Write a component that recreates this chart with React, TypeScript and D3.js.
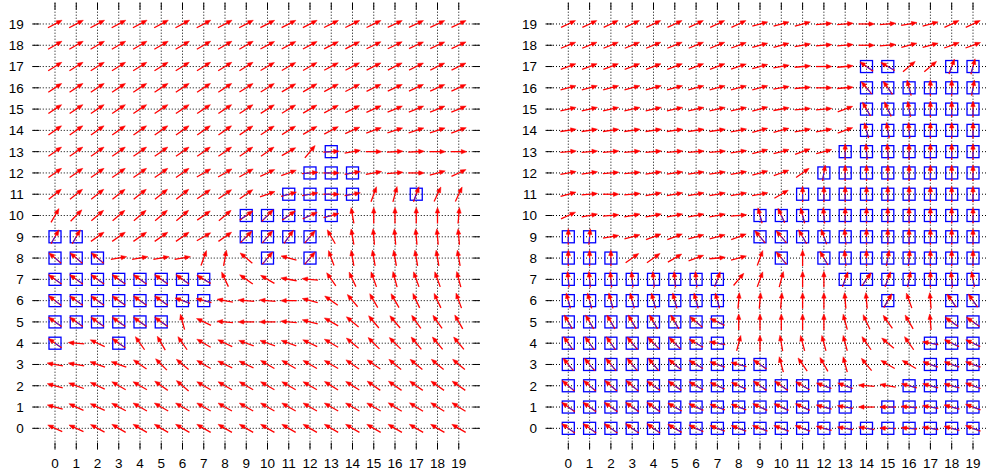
import React from "react";
import * as d3 from "d3";

const GRID = d3.range(20);
const TICK_LABELS = d3.range(20).map(String);

// Angles in degrees (0 = pointing right, 90 = pointing up), rows indexed by y value 0..19
const LEFT_ANGLES: number[][] = [
  [155,155,152,150,150,150,150,150,150,150,150,150,150,150,150,150,150,150,150,150],
  [165,155,155,152,150,150,150,150,150,150,150,150,150,150,150,150,148,148,148,148],
  [165,160,155,150,150,145,140,150,150,150,150,150,150,148,148,145,145,145,145,145],
  [170,170,160,160,145,135,140,150,155,155,150,150,150,150,145,145,140,140,140,140],
  [145,175,155,145,125,120,125,150,155,160,160,160,155,150,140,135,135,130,130,130],
  [145,145,145,145,145,145,105,155,175,180,180,175,165,150,140,130,130,125,125,120],
  [142,145,145,145,145,145,160,165,170,175,175,180,165,145,130,120,120,115,115,110],
  [145,145,145,145,145,145,145,150,115,145,150,170,175,125,115,110,105,110,110,105],
  [140,140,140,10,10,10,10,70,80,140,50,165,50,110,100,100,100,100,100,100],
  [60,60,35,35,35,35,35,30,35,45,50,55,50,120,100,95,95,95,95,95],
  [60,45,40,40,40,40,40,35,40,35,45,35,25,15,100,90,90,90,90,85],
  [38,38,38,38,38,38,38,35,35,35,20,15,10,0,10,70,75,70,65,65],
  [35,35,35,35,35,35,35,30,30,30,25,20,5,0,10,10,5,0,15,25],
  [35,35,35,35,35,35,35,35,35,35,35,30,50,3,10,0,3,3,0,0],
  [35,35,35,35,35,35,35,35,35,34,33,32,30,28,24,20,18,18,18,20],
  [34,34,34,34,34,34,34,34,34,33,32,31,30,28,26,24,22,22,22,22],
  [33,33,33,33,33,33,33,33,33,32,32,30,30,28,27,26,25,25,24,24],
  [32,32,32,32,32,32,32,32,32,32,30,30,30,28,28,27,27,26,26,26],
  [30,30,30,30,30,30,30,30,30,30,28,28,28,27,27,26,26,25,25,25],
  [28,28,28,28,28,28,28,28,28,28,27,27,27,26,26,26,25,25,25,25],
];

const RIGHT_ANGLES: number[][] = [
  [145,145,145,145,145,150,155,160,160,160,160,160,165,170,170,178,175,170,165,160],
  [145,145,145,145,145,150,155,160,160,155,155,155,165,170,180,180,175,170,165,160],
  [140,140,140,140,145,145,150,155,155,145,145,150,160,160,175,170,165,165,165,160],
  [130,130,130,130,130,140,150,160,165,145,105,125,120,105,130,150,150,160,160,160],
  [125,125,125,130,135,135,150,170,75,90,100,105,105,105,125,140,125,170,155,155],
  [120,120,120,120,120,120,140,155,90,90,90,90,90,105,115,125,120,95,145,145],
  [105,105,105,105,105,105,105,105,85,85,85,90,90,95,95,60,110,95,125,125],
  [95,95,95,95,95,95,95,70,50,70,75,90,90,70,55,70,80,90,95,100],
  [90,90,90,35,35,30,20,5,15,70,130,90,120,95,90,80,85,90,90,90],
  [90,85,10,15,20,20,15,15,20,130,130,120,110,95,90,90,90,90,90,90],
  [25,10,5,10,10,10,10,10,5,105,115,105,95,90,90,90,90,90,90,90],
  [15,5,0,5,10,10,10,10,10,10,30,90,90,90,90,90,90,90,90,90],
  [10,8,5,5,8,8,8,8,10,15,20,35,80,90,90,90,90,90,90,90],
  [5,5,5,5,5,5,5,5,8,15,15,20,15,90,95,95,90,90,90,90],
  [8,8,8,8,8,8,8,8,10,15,15,10,10,20,105,100,95,90,90,90],
  [12,12,12,12,12,12,12,12,12,15,10,5,5,20,120,115,100,90,90,90],
  [15,15,15,15,15,15,15,15,15,15,10,5,0,5,130,125,105,90,90,80],
  [20,20,20,20,20,20,20,20,18,15,10,5,0,5,145,150,40,40,70,75],
  [22,22,22,22,22,22,22,22,20,15,15,10,5,5,0,5,15,15,20,20],
  [25,25,25,25,25,25,25,25,25,15,15,15,5,5,0,5,10,15,25,25],
];

// Marked cells: [row, columns]
const LEFT_MARKED: [number, number[]][] = [
  [13, [13]],
  [12, [12, 13, 14]],
  [11, [11, 12, 13, 14, 17]],
  [10, [9, 10, 11, 12, 13]],
  [9, [0, 1, 9, 10, 11, 12]],
  [8, [0, 1, 2, 10, 12]],
  [7, [0, 1, 2, 3, 4, 5, 6, 7]],
  [6, [0, 1, 2, 3, 4, 5, 6, 7]],
  [5, [0, 1, 2, 3, 4, 5]],
  [4, [0, 3]],
];

const RIGHT_MARKED: [number, number[]][] = [
  [17, [14, 15, 18, 19]],
  [16, [14, 15, 16, 17, 18, 19]],
  [15, [14, 15, 16, 17, 18, 19]],
  [14, [14, 15, 16, 17, 18, 19]],
  [13, [13, 14, 15, 16, 17, 18, 19]],
  [12, [12, 13, 14, 15, 16, 17, 18, 19]],
  [11, [11, 12, 13, 14, 15, 16, 17, 18, 19]],
  [10, [9, 10, 11, 12, 13, 14, 15, 16, 17, 18, 19]],
  [9, [0, 1, 9, 10, 11, 12, 13, 14, 15, 16, 17, 18, 19]],
  [8, [0, 1, 2, 10, 12, 13, 14, 15, 16, 17, 18, 19]],
  [7, [0, 1, 2, 3, 4, 5, 6, 7, 13, 14, 15, 16, 17, 18, 19]],
  [6, [0, 1, 2, 3, 4, 5, 6, 7, 15, 18, 19]],
  [5, [0, 1, 2, 3, 4, 5, 6, 7, 18, 19]],
  [4, [0, 1, 2, 3, 4, 5, 6, 7, 17, 18, 19]],
  [3, [0, 1, 2, 3, 4, 5, 6, 7, 8, 9, 17, 18, 19]],
  [2, [0, 1, 2, 3, 4, 5, 6, 7, 8, 9, 10, 11, 12, 13, 16, 17, 18, 19]],
  [1, [0, 1, 2, 3, 4, 5, 6, 7, 8, 9, 10, 11, 12, 13, 15, 16, 17, 18, 19]],
  [0, [0, 1, 2, 3, 4, 5, 6, 7, 8, 9, 10, 11, 12, 13, 14, 15, 16, 17, 18, 19]],
];

const FONT = "'Liberation Sans', Arial, Helvetica, sans-serif";

type PanelProps = {
  angles: number[][];
  marked: [number, number[]][];
  xRange: [number, number];
  yRange: [number, number];
};

function Panel({ angles, marked, xRange, yRange }: PanelProps) {
  const x = d3.scaleLinear().domain([-1, 20]).range(xRange);
  const y = d3.scaleLinear().domain([-1, 20]).range(yRange);
  const L = 16;
  const hl = 5.5;
  const hw = 2.2;
  const tick = 7;
  const left = x(-1);
  const right = x(20);
  const top = y(20);
  const bottom = y(-1);

  const arrows: React.ReactNode[] = [];
  GRID.forEach((r) => {
    GRID.forEach((c) => {
      const a = (angles[r][c] * Math.PI) / 180;
      const dx = Math.cos(a);
      const dy = -Math.sin(a);
      const cx = x(c);
      const cy = y(r);
      const tx = cx - (dx * L) / 2;
      const ty = cy - (dy * L) / 2;
      const hx = cx + (dx * L) / 2;
      const hy = cy + (dy * L) / 2;
      const bx = hx - dx * hl;
      const by = hy - dy * hl;
      const px = -dy;
      const py = dx;
      arrows.push(
        <g key={`a${r}-${c}`}>
          <line x1={tx} y1={ty} x2={bx + dx * 1} y2={by + dy * 1} stroke="#ff0000" strokeWidth={1.3} />
          <polygon
            points={`${hx},${hy} ${bx + px * hw},${by + py * hw} ${bx - px * hw},${by - py * hw}`}
            fill="#ff0000"
            stroke="#ff0000"
            strokeWidth={0.5}
          />
        </g>
      );
    });
  });

  const squares: React.ReactNode[] = [];
  const blues: React.ReactNode[] = [];
  marked.forEach(([r, cols]) => {
    cols.forEach((c) => {
      const cx = x(c);
      const cy = y(r);
      const a = (angles[r][c] * Math.PI) / 180;
      const dx = Math.cos(a);
      const dy = -Math.sin(a);
      squares.push(
        <rect key={`s${r}-${c}`} x={cx - 6} y={cy - 6} width={12} height={12} fill="none" stroke="#0000ff" strokeWidth={1.3} />
      );
      blues.push(
        <line key={`b${r}-${c}`} x1={cx} y1={cy} x2={cx - dx * 6} y2={cy - dy * 6} stroke="#2020ff" strokeWidth={1} />
      );
    });
  });

  return (
    <g>
      {/* grid */}
      {GRID.map((c) => (
        <line key={`gv${c}`} x1={x(c)} x2={x(c)} y1={top} y2={bottom} stroke="#000" strokeWidth={1} strokeDasharray="1 2" />
      ))}
      {GRID.map((r) => (
        <line key={`gh${r}`} x1={left} x2={right} y1={y(r)} y2={y(r)} stroke="#000" strokeWidth={1} strokeDasharray="1 2" />
      ))}
      {/* ticks */}
      {GRID.map((c) => (
        <g key={`tx${c}`}>
          <line x1={x(c)} x2={x(c)} y1={top} y2={top + tick} stroke="#000" strokeWidth={1} />
          <line x1={x(c)} x2={x(c)} y1={bottom - tick} y2={bottom} stroke="#000" strokeWidth={1} />
          <text x={x(c)} y={bottom + 18} textAnchor="middle" fontSize={13.5} fontFamily={FONT} fill="#000">
            {TICK_LABELS[c]}
          </text>
        </g>
      ))}
      {GRID.map((r) => (
        <g key={`ty${r}`}>
          <line x1={left - 1.5} x2={left - 1.5 + tick} y1={y(r)} y2={y(r)} stroke="#000" strokeWidth={1} />
          <line x1={right - tick} x2={right} y1={y(r)} y2={y(r)} stroke="#000" strokeWidth={1} />
          <text x={left - 10} y={y(r)} dy="0.36em" textAnchor="end" fontSize={13.5} fontFamily={FONT} fill="#000">
            {TICK_LABELS[r]}
          </text>
        </g>
      ))}
      {squares}
      {arrows}
      {blues}
    </g>
  );
}

export default function App() {
  return (
    <svg
      width={986}
      height={474}
      style={{ position: "absolute", left: 0, top: 0, background: "#fff" }}
    >
      <rect x={0} y={0} width={986} height={474} fill="#fff" />
      <Panel angles={LEFT_ANGLES} marked={LEFT_MARKED} xRange={[33.75, 480]} yRange={[449.6, 2.7]} />
      <Panel angles={RIGHT_ANGLES} marked={RIGHT_MARKED} xRange={[547, 994.3]} yRange={[449.6, 2.7]} />
    </svg>
  );
}
